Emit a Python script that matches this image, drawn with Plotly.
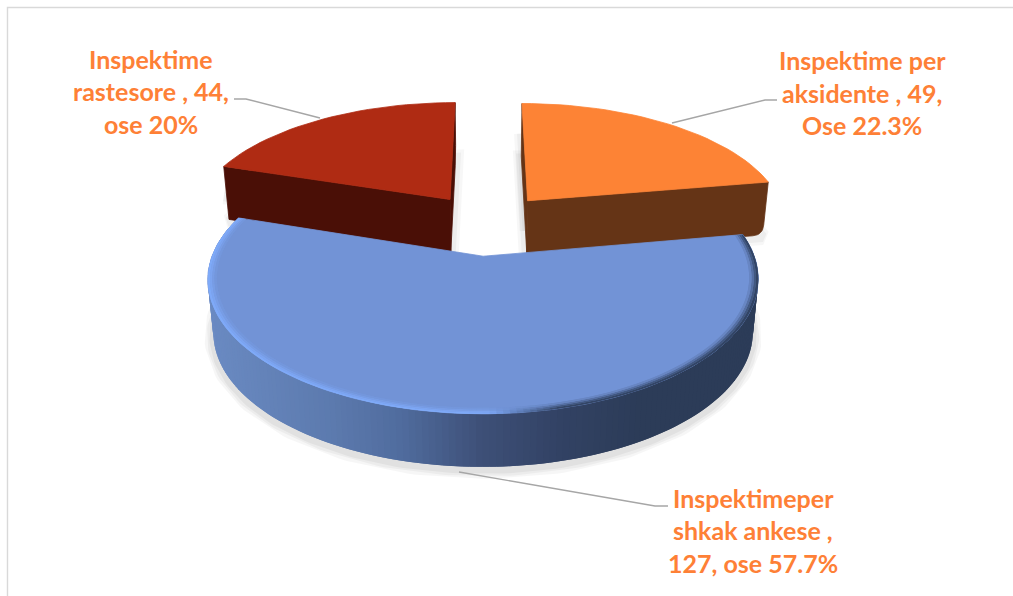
import numpy as np
import plotly.graph_objects as go

# ---- data ----
categories = ["Inspektime per aksidente", "Inspektimeper shkak ankese", "Inspektime rastesore"]
values = [49, 127, 44]
label_lines = [
    ["Inspektime per", "aksidente , 49,", "Ose 22.3%"],
    ["Inspektimeper", "shkak ankese ,", "127, ose 57.7%"],
    ["Inspektime", "rastesore , 44,", "ose 20%"],
]

# ---- style / layout ----
W, H = 1013, 596
TOP = ["#fd8335", "#7293d6", "#af2b13"]
SIDE = ["#653416", "#3e4f78", "#4a0f06"]
LABEL = "#fe8036"
LABEL_POS = [(862, [60, 92.5, 125]), (753, [498, 530, 563]), (151, [59, 91, 124])]
LEADERS = [
    ([777, 765, 672], [100, 100, 123]),
    ([459, 655, 668], [472, 506, 506]),
    ([234, 246, 320], [99, 99, 118]),
]
CX, CY, A, B, K = 489, 225, 260, 120, 0.165
PULL = 0.25
THICK = 53
BOT = 0.98
NUDGE = [-2, -1, -2]
NUDGE_Y = [-2, 0, -2]
CORNER = 10


def proj(x, y, dx=0.0, bottom=False, dy=0.0):
    x, y = np.asarray(x, float), np.asarray(y, float)
    s = 1 + K * y
    X = CX + A * x / s
    Y = CY - B * y / s
    if bottom:
        X = CX + (X - CX) * BOT
        Y = Y + THICK
    return X + dx, Y + dy


total = sum(values)
fig = go.Figure()


def poly(xs, ys, color, lw=0.8):
    fig.add_trace(go.Scatter(x=list(xs), y=list(ys), mode="lines", fill="toself", fillcolor=color,
                             line=dict(color=color, width=lw), hoverinfo="skip", showlegend=False))


def stroke(xs, ys, color, w):
    fig.add_trace(go.Scatter(x=list(xs), y=list(ys), mode="lines", line=dict(color=color, width=w),
                             hoverinfo="skip", showlegend=False))


def mix(a, b, t):
    return tuple(a[i] + (b[i] - a[i]) * t for i in range(3))


def rgb(c):
    return "rgb(%d,%d,%d)" % tuple(round(v) for v in c)


def side_colour(x):
    stops_x = [208, 330, 400, 480, 560, 640, 760]
    stops = [(106, 138, 194), (92, 122, 174), (80, 108, 158), (62, 80, 120), (50, 66, 100), (44, 60, 88), (44, 60, 88)]
    return tuple(np.interp(x, stops_x, [c[i] for c in stops]) for i in range(3))


def edge_colour(x):
    t = np.clip((x - 490) / 70, 0, 1)
    return mix((128, 172, 252), (44, 60, 88), t)


def rounded(p0, c, p1, r):
    """Quadratic corner at c between the directions to p0 and p1."""
    c = np.array(c, float)
    a = np.array(p0, float) - c
    b = np.array(p1, float) - c
    a = c + a / np.hypot(*a) * r
    b = c + b / np.hypot(*b) * r
    t = np.linspace(0, 1, 9)[:, None]
    return (1 - t) ** 2 * a + 2 * t * (1 - t) * c + t ** 2 * b


# slice geometry from the values
geo = []
start = 90.0
for i, v in enumerate(values):
    sweep = v / total * 360
    end = start - sweep
    mid = np.radians((start + end) / 2)
    ox, oy = PULL * np.cos(mid), PULL * np.sin(mid)
    step = 1.2 if i == 1 else 2.5
    th = np.radians(np.linspace(start, end, int(sweep / step) + 1))
    geo.append(dict(i=i, ox=ox, oy=oy, th=th, dx=NUDGE[i], dy=NUDGE_Y[i]))
    start = end

# shadows
for g in geo:
    ax, ay = g["ox"] + np.cos(g["th"]), g["oy"] + np.sin(g["th"])
    dx, dy = g["dx"], g["dy"]
    if g["i"] == 1:
        X, Y = proj(ax, ay, dx, True, dy)
        mask = Y > 244
        for w, al in [(18, 0.035), (13, 0.04), (8, 0.045)]:
            stroke(X[mask], Y[mask] + 3, "rgba(0,0,0,%g)" % al, w)
    else:
        X, Y = proj(np.r_[g["ox"], ax, g["ox"]], np.r_[g["oy"], ay, g["oy"]], dx, True, dy)
        Xt, Yt = proj(np.r_[g["ox"], ax[0]], np.r_[g["oy"], ay[0]], dx, False, dy)
        for w, al in [(16, 0.03), (10, 0.04)]:
            stroke(X, Y + 2, "rgba(0,0,0,%g)" % al, w)
            stroke(Xt, Yt + 30, "rgba(0,0,0,%g)" % al, w)

# draw back slices first, the large front slice last
for g in [geo[2], geo[0], geo[1]]:
    i, ox, oy, th, dx, dy = g["i"], g["ox"], g["oy"], g["th"], g["dx"], g["dy"]
    ax, ay = ox + np.cos(th), oy + np.sin(th)
    Xt, Yt = proj(ax, ay, dx, False, dy)
    Xb, Yb = proj(ax, ay, dx, True, dy)
    if i == 1:
        n = len(th)
        for j in range(n - 1):
            k = min(j + 2, n - 1)  # overlap the next cell so no seams show
            col = rgb(side_colour((Xt[j] + Xt[j + 1]) / 2))
            poly([Xt[j], Xt[k], Xb[k], Xb[j], Xt[j]], [Yt[j], Yt[k], Yb[k], Yb[j], Yt[j]], col, 0)
    else:
        px, py = proj(ox, oy, dx, False, dy)
        qx, qy = proj(ox, oy, dx, True, dy)
        # back radial edge: a sliver
        poly([px, Xt[0], Xb[0], qx, px], [py, Yt[0], Yb[0], qy, py], SIDE[i])
        # front radial edge with a rounded lower outer corner
        arc = rounded((Xt[-1], Yt[-1]), (Xb[-1], Yb[-1]), (qx, qy), CORNER)
        fx = np.r_[px, Xt[-1], arc[:, 0], qx, px]
        fy = np.r_[py, Yt[-1], arc[:, 1], qy, py]
        poly(fx, fy, SIDE[i])
    px, py = proj(ox, oy, dx, False, dy)
    poly(np.r_[px, Xt, px], np.r_[py, Yt, py], TOP[i])
    if i == 1:
        base = (114, 147, 214)
        radii = [1.0, 0.992, 0.984, 0.976, 0.968]
        weights = [0.9, 0.68, 0.4, 0.15]
        n = len(th)
        for b in range(4):
            r0, r1 = radii[b], radii[b + 1]
            x0, y0 = proj(ox + r0 * np.cos(th), oy + r0 * np.sin(th), dx, False, dy)
            x1, y1 = proj(ox + r1 * np.cos(th), oy + r1 * np.sin(th), dx, False, dy)
            for j in range(n - 1):
                k = min(j + 2, n - 1)
                c = rgb(mix(base, edge_colour((x0[j] + x0[j + 1]) / 2), weights[b]))
                poly([x0[j], x0[k], x1[k], x1[j], x0[j]], [y0[j], y0[k], y1[k], y1[j], y0[j]], c, 0)

# leader lines and frame
for lx, ly in LEADERS:
    stroke(lx, ly, "#a6a6a6", 1.4)
stroke([7.5, 7.5, W], [H, 7.5, 7.5], "#d9d9d9", 1.4)

for (cx, ys), lines in zip(LABEL_POS, label_lines):
    for y, t in zip(ys, lines):
        fig.add_annotation(x=cx, y=y, text=t, showarrow=False, xanchor="center", yanchor="middle",
                           font=dict(family="Lato", size=25, color=LABEL, weight=700), bgcolor="rgba(0,0,0,0)")

fig.update_layout(width=W, height=H, margin=dict(l=0, r=0, t=0, b=0), paper_bgcolor="white",
                  plot_bgcolor="white", showlegend=False, font=dict(family="Lato"),
                  xaxis=dict(range=[0, W], visible=False, fixedrange=True),
                  yaxis=dict(range=[H, 0], visible=False, fixedrange=True))
fig.write_html("out.html", post_script="document.body.style.margin='0';", config={"displayModeBar": False})
